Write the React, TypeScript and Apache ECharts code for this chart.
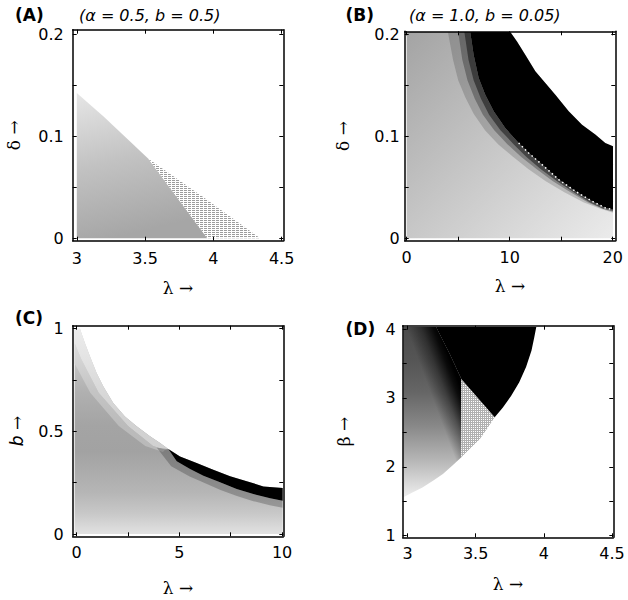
import React, { useEffect, useRef } from "react";
import * as echarts from "echarts";

type Pt = [number, number];

// ---------------- Panel A  (α = 0.5, b = 0.5) : λ × δ ----------------
const aUpperEdge: Pt[] = [[3.0, 0.1425], [3.2, 0.119], [3.524, 0.078]];
const aSplitEdge: Pt[] = [[3.524, 0.078], [3.956, 0.0]];
const aHatchEdge: Pt[] = [[3.524, 0.078], [3.93, 0.04], [4.342, 0.0]];
const aTicksX = [3, 3.5, 4, 4.5];
const aLabelsX = [3, 3.5, 4, 4.5];
const abTicksY = [0, 0.05, 0.1, 0.15, 0.2];
const abLabelsY = [0, 0.1, 0.2];

// ---------------- Panel B  (α = 1.0, b = 0.05) : λ × δ ----------------
const bBlackLower: Pt[] = [
  [6.17, 0.2023], [6.5, 0.18], [6.99, 0.157], [7.63, 0.1408], [8.45, 0.1245], [9.57, 0.108],
  [10.87, 0.0934], [11.84, 0.0836], [13.14, 0.0722], [14.76, 0.0575], [16.37, 0.0461],
  [17.99, 0.0363], [19.28, 0.0297], [20.03, 0.028],
];
const bBlackUpper: Pt[] = [
  [10.06, 0.2023], [10.71, 0.193], [11.51, 0.18], [12.49, 0.1637], [13.46, 0.1523], [14.43, 0.1408],
  [15.73, 0.1245], [17.02, 0.1114], [18.31, 0.1016], [19.28, 0.0934], [20.03, 0.0902],
];
const bShade1: Pt[] = [
  [4.0, 0.2023], [4.5, 0.175], [5.0, 0.155], [5.7, 0.138], [6.5, 0.122], [7.6, 0.106], [8.9, 0.092],
  [10.2, 0.081], [11.8, 0.068], [13.5, 0.056], [15.3, 0.045], [17.2, 0.035], [18.8, 0.029], [20.03, 0.025],
];
const bShade2: Pt[] = [
  [5.0, 0.2023], [5.4, 0.175], [5.9, 0.155], [6.6, 0.137], [7.4, 0.121], [8.5, 0.106], [9.8, 0.092],
  [11.1, 0.08], [12.6, 0.068], [14.2, 0.056], [15.9, 0.045], [17.6, 0.035], [19.0, 0.029], [20.03, 0.026],
];
const bShade3: Pt[] = [
  [5.6, 0.2023], [6.0, 0.175], [6.5, 0.155], [7.2, 0.137], [8.0, 0.121], [9.1, 0.106], [10.4, 0.092],
  [11.6, 0.08], [13.0, 0.068], [14.6, 0.056], [16.2, 0.045], [17.8, 0.035], [19.1, 0.029], [20.03, 0.027],
];
const bTicksX = [0, 5, 10, 15, 20];
const bLabelsX = [0, 10, 20];

// ---------------- Panel C : λ × b ----------------
const cGrayUpper: Pt[] = [
  [-0.1, 1.0], [0.16, 1.0], [0.4, 0.93], [0.65, 0.865], [0.97, 0.784], [1.3, 0.719], [1.78, 0.638],
  [2.35, 0.573], [2.92, 0.525], [3.57, 0.476], [4.06, 0.443], [4.46, 0.414],
];
const cBlackUpper: Pt[] = [
  [4.46, 0.414], [5.03, 0.378], [5.84, 0.346], [6.65, 0.313], [7.47, 0.281], [8.28, 0.257],
  [9.09, 0.232], [10.03, 0.224],
];
const cBlackLower: Pt[] = [
  [4.46, 0.414], [4.87, 0.354], [5.52, 0.317], [6.17, 0.284], [6.98, 0.252], [7.79, 0.219],
  [8.6, 0.195], [9.42, 0.174], [10.03, 0.162],
];
const cShade: Pt[] = [
  [3.9, 0.42], [4.6, 0.33], [5.5, 0.28], [6.2, 0.25], [7.0, 0.215], [7.8, 0.185], [8.6, 0.16],
  [9.4, 0.14], [10.03, 0.128],
];
const cFadeOuter: Pt[] = [[-0.1, 0.83], [0.66, 0.688], [2.05, 0.526], [3.34, 0.429], [4.2, 0.4]];
const cFadeInner: Pt[] = [[-0.1, 0.93], [0.22, 0.852], [1.07, 0.688], [2.5, 0.526], [3.72, 0.429], [4.3, 0.41]];
const cTicksX = [0, 2.5, 5, 7.5, 10];
const cLabelsX = [0, 5, 10];
const cTicksY = [0, 0.25, 0.5, 0.75, 1];
const cLabelsY = [0, 0.5, 1];

// ---------------- Panel D : λ × β ----------------
const dLowerEdge: Pt[] = [
  [2.97, 1.557], [3.04, 1.63], [3.11, 1.7], [3.19, 1.8], [3.26, 1.895], [3.33, 2.02], [3.395, 2.14],
];
const dHatchLower: Pt[] = [[3.395, 2.14], [3.456, 2.26], [3.53, 2.4], [3.59, 2.57], [3.64, 2.72]];
const dBlackLeft: Pt[] = [[3.21, 4.03], [3.31, 3.64], [3.395, 3.276]];
const dBlackRight: Pt[] = [
  [3.64, 2.72], [3.7, 2.86], [3.76, 3.03], [3.82, 3.23], [3.87, 3.45], [3.91, 3.69], [3.93, 3.88], [3.945, 4.03],
];
const dTicksX = [3, 3.5, 4, 4.5];
const dLabelsX = [3, 3.5, 4, 4.5];
const dTicksY = [1, 1.5, 2, 2.5, 3, 3.5, 4];
const dLabelsY = [1, 2, 3, 4];

const rev = (a: Pt[]) => a.slice().reverse();

const FONT = "DejaVu Sans";
const SERIF = "DejaVu Serif";

// colour styling helpers
const C_STOPS: [number, string][] = [
  [0, "#d8d8d8"], [0.15, "#c6c6c6"], [0.31, "#b0b0b0"], [0.47, "#a4a4a4"],
  [0.6, "#a2a2a2"], [0.8, "#b6b6b6"], [0.9, "#c8c8c8"], [1, "#e2e2e2"],
];
function lighten(hex: string, t: number) {
  const v = parseInt(hex.slice(1, 3), 16);
  const m = Math.round(v + (255 - v) * t);
  const h = m.toString(16).padStart(2, "0");
  return "#" + h + h + h;
}
function stops(list: [number, string][]) {
  return list.map(([offset, color]) => ({ offset, color }));
}

function shapeSeries(
  grid: number,
  pts: Pt[],
  style: (api: any) => any,
  z: number,
  kind: "polygon" | "polyline" = "polygon"
) {
  return {
    type: "custom",
    coordinateSystem: "cartesian2d",
    xAxisIndex: grid * 2,
    yAxisIndex: grid * 2,
    clip: true,
    silent: true,
    z,
    data: pts.map((p) => [p[0], p[1]]),
    renderItem: (params: any, api: any) => {
      if (params.dataIndex !== 0) return null;
      return {
        type: kind,
        shape: { points: pts.map((p) => api.coord(p)) },
        style: style(api),
      };
    },
  };
}

function linear(api: any, from: Pt, to: Pt, s: [number, string][]) {
  const a = api.coord(from);
  const b = api.coord(to);
  return new echarts.graphic.LinearGradient(a[0], a[1], b[0], b[1], stops(s), true);
}

function axesFor(
  g: number,
  xr: [number, number],
  yr: [number, number],
  xTicks: number[],
  xLabels: number[],
  yTicks: number[],
  yLabels: number[],
  xName: string,
  yName: string,
  xGap: number,
  yGap: number,
  xMargin: number,
  yMargin: number
) {
  const line = { show: true, onZero: false, lineStyle: { color: "#000", width: 1.5 } };
  const tick = (vals: number[]) => ({
    show: true,
    inside: true,
    length: 4,
    customValues: vals,
    lineStyle: { color: "#000", width: 1 },
  });
  const lbl = (vals: number[], margin: number) => ({
    show: true,
    customValues: vals,
    margin,
    fontFamily: FONT,
    fontSize: 16,
    color: "#000",
    showMinLabel: true,
    showMaxLabel: true,
    hideOverlap: false,
  });
  const nameStyle = {
    fontFamily: SERIF,
    fontSize: 17,
    color: "#000",
    rich: { i: { fontFamily: FONT, fontStyle: "italic", fontSize: 17, color: "#000" } },
  };
  const x = [
    {
      type: "value", gridIndex: g, position: "bottom", min: xr[0], max: xr[1], z: 10,
      axisLine: line, axisTick: tick(xTicks), axisLabel: lbl(xLabels, xMargin),
      splitLine: { show: false },
      name: xName, nameLocation: "middle", nameGap: xGap, nameTextStyle: nameStyle,
    },
    {
      type: "value", gridIndex: g, position: "top", min: xr[0], max: xr[1], z: 10,
      axisLine: line, axisTick: tick(xTicks), axisLabel: { show: false }, splitLine: { show: false },
    },
  ];
  const y = [
    {
      type: "value", gridIndex: g, position: "left", min: yr[0], max: yr[1], z: 10,
      axisLine: line, axisTick: tick(yTicks), axisLabel: lbl(yLabels, yMargin),
      splitLine: { show: false },
      name: yName, nameLocation: "middle", nameGap: yGap, nameRotate: 90, nameTextStyle: nameStyle,
    },
    {
      type: "value", gridIndex: g, position: "right", min: yr[0], max: yr[1], z: 10,
      axisLine: line, axisTick: tick(yTicks), axisLabel: { show: false }, splitLine: { show: false },
    },
  ];
  return { x, y };
}

function hatchPattern(kind: "rows" | "grid") {
  const c = document.createElement("canvas");
  if (kind === "rows") {
    c.width = 4;
    c.height = 2;
    const g = c.getContext("2d")!;
    g.fillStyle = "#ffffff";
    g.fillRect(0, 0, 4, 2);
    g.fillStyle = "#9c9c9c";
    g.fillRect(0, 0, 3, 1);
  } else {
    c.width = 2;
    c.height = 2;
    const g = c.getContext("2d")!;
    g.fillStyle = "#ffffff";
    g.fillRect(0, 0, 2, 2);
    g.fillStyle = "#b0b0b0";
    g.fillRect(0, 0, 2, 1);
    g.fillRect(0, 0, 1, 2);
  }
  return { image: c, repeat: "repeat", imageWidth: c.width, imageHeight: c.height };
}

export default function App() {
  const ref = useRef<HTMLDivElement>(null);
  useEffect(() => {
    if (!ref.current) return;
    const chart = echarts.init(ref.current, undefined, { renderer: "svg" });

    const rowsHatch = hatchPattern("rows");
    const gridHatch = hatchPattern("grid");

    const A = axesFor(0, [2.97, 4.512], [-0.0024, 0.2045], aTicksX, aLabelsX, abTicksY, abLabelsY,
      "λ →", "δ →", 39, 50, 10, 9);
    const B = axesFor(1, [-0.19, 20.25], [-0.0024, 0.2029], bTicksX, bLabelsX, abTicksY, abLabelsY,
      "λ →", "δ →", 37, 53, 9, 5);
    const C = axesFor(2, [-0.195, 10.06], [-0.011, 1.0146], cTicksX, cLabelsX, cTicksY, cLabelsY,
      "λ →", "{i|b} →", 43, 47, 8, 9);
    const D = axesFor(3, [2.965, 4.51], [0.975, 4.05], dTicksX, dLabelsX, dTicksY, dLabelsY,
      "λ →", "β →", 38, 50, 8, 7);

    const aGray: Pt[] = [[3.0, 0], ...aUpperEdge, ...aSplitEdge.slice(1)];
    const aHatch: Pt[] = [...aHatchEdge, [3.956, 0]];

    const bField: Pt[] = [[0, 0], [0, 0.2023], ...bBlackUpper, [20.03, 0]];
    const bBlack: Pt[] = [...bBlackLower, ...rev(bBlackUpper)];

    const cField: Pt[] = [[-0.1, 0], ...cGrayUpper, ...cBlackUpper.slice(1), [10.03, 0]];
    const cBlack: Pt[] = [...cBlackUpper, ...rev(cBlackLower)];
    const cBandOuter: Pt[] = [...cFadeOuter, ...rev(cFadeInner)];
    const cBandInner: Pt[] = [...cFadeInner, ...rev(cGrayUpper)];

    const dField: Pt[] = [[2.97, 4.03], ...dLowerEdge, ...rev(dBlackLeft)];
    const dBlack: Pt[] = [...dBlackLeft, ...dBlackRight];
    const dHatch: Pt[] = [...dHatchLower, [3.395, 3.276]];

    const cGrad = (t: number) => (api: any) => ({
      fill: linear(api, [0, 1.0], [0, 0], C_STOPS.map(([o, c]) => [o, lighten(c, t)] as [number, string])),
    });

    const series: any[] = [
      // A
      shapeSeries(0, aGray, (api) => ({
        fill: linear(api, [3.0, 0.1425], [3.25, 0], [[0, "#e6e6e6"], [0.5, "#c2c2c2"], [1, "#a6a6a6"]]),
      }), 2),
      shapeSeries(0, aHatch, () => ({ fill: rowsHatch }), 3),
      // B
      shapeSeries(1, bField, (api) => ({
        fill: linear(api, [0, 0.2], [20, 0], [[0, "#a4a4a4"], [0.5, "#c8c8c8"], [1, "#ebebeb"]]),
      }), 2),
      shapeSeries(1, [...bShade1, ...rev(bBlackLower)], () => ({ fill: "rgba(0,0,0,0.16)" }), 3),
      shapeSeries(1, [...bShade2, ...rev(bBlackLower)], () => ({ fill: "rgba(0,0,0,0.28)" }), 4),
      shapeSeries(1, [...bShade3, ...rev(bBlackLower)], () => ({ fill: "rgba(0,0,0,0.45)" }), 5),
      shapeSeries(1, bBlack, () => ({ fill: "#000" }), 6),
      shapeSeries(1, bBlackLower.slice(6), () => ({
        fill: "none", stroke: "#ffffff", lineWidth: 1.5, lineDash: [1.5, 3],
      }), 7, "polyline"),
      // C
      shapeSeries(2, cField, cGrad(0), 2),
      shapeSeries(2, cBandOuter, cGrad(0.25), 3),
      shapeSeries(2, cBandInner, cGrad(0.5), 4),
      shapeSeries(2, [...cShade, ...rev(cBlackLower)], () => ({ fill: "rgba(0,0,0,0.22)" }), 5),
      shapeSeries(2, cBlack, () => ({ fill: "#000" }), 6),
      // D
      shapeSeries(3, dField, (api) => ({
        fill: linear(api, [3.0, 4.03], [3.0, 1.557], [
          [0, "#4c4c4c"], [0.19, "#555555"], [0.385, "#666666"], [0.58, "#888888"],
          [0.774, "#b4b4b4"], [0.913, "#d8d8d8"], [1, "#eeeeee"],
        ]),
      }), 2),
      shapeSeries(3, dField, (api) => ({
        fill: linear(api, [2.983, 4.063], [3.189, 4.215], [
          [0, "rgba(0,0,0,0)"], [0.463, "rgba(0,0,0,0.4)"], [0.833, "rgba(0,0,0,0.88)"], [1, "rgba(0,0,0,1)"],
        ]),
      }), 3),
      shapeSeries(3, dHatch, () => ({ fill: gridHatch }), 4),
      shapeSeries(3, dBlack, () => ({ fill: "#000" }), 5),
    ];

    const textItem = (x: number, y: number, text: string, font: string) => ({
      type: "text",
      x,
      y,
      silent: true,
      style: { text, font, fill: "#000", verticalAlign: "middle", textVerticalAlign: "middle" },
    });

    chart.setOption({
      animation: false,
      backgroundColor: "#ffffff",
      grid: [
        { left: 72.7, top: 29.7, width: 210.6, height: 211, containLabel: false },
        { left: 404.7, top: 31.3, width: 210.6, height: 209.4, containLabel: false },
        { left: 72.7, top: 325.7, width: 210.6, height: 210.6, containLabel: false },
        { left: 402.7, top: 325.7, width: 210.6, height: 211.6, containLabel: false },
      ],
      xAxis: [...A.x, ...B.x, ...C.x, ...D.x],
      yAxis: [...A.y, ...B.y, ...C.y, ...D.y],
      series,
      graphic: [
        textItem(15, 15, "(A)", `bold 17px "${FONT}"`),
        textItem(79, 15, "(α = 0.5, b = 0.5)", `italic 16px "${FONT}"`),
        textItem(345.5, 15, "(B)", `bold 17px "${FONT}"`),
        textItem(409, 15, "(α = 1.0, b = 0.05)", `italic 16px "${FONT}"`),
        textItem(15, 318, "(C)", `bold 17px "${FONT}"`),
        textItem(345.5, 329, "(D)", `bold 17px "${FONT}"`),
      ],
    });
    return () => chart.dispose();
  }, []);
  return (
    <div
      ref={ref}
      style={{ position: "fixed", left: 0, top: 0, width: 628, height: 600, background: "#fff" }}
    />
  );
}
